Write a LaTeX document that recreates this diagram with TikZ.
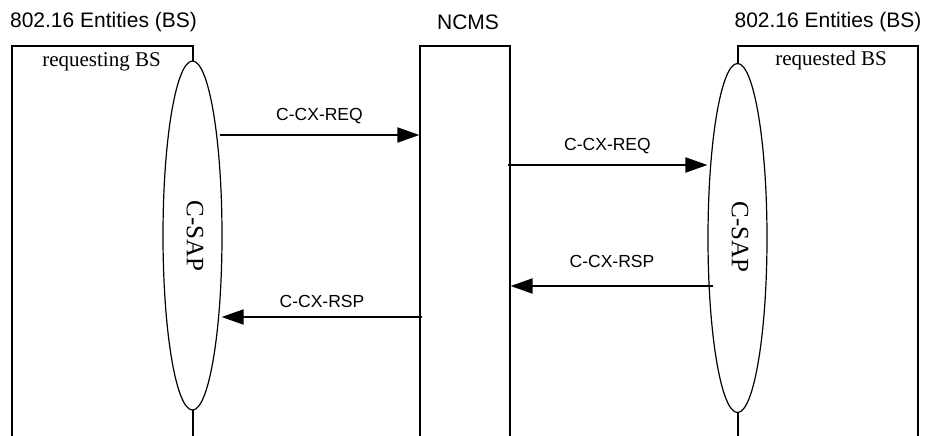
\documentclass[tikz,border=0pt]{standalone}
\usepackage{fontspec}
\setmainfont{Liberation Serif}
\newfontfamily\arialfont{Liberation Sans}
\usetikzlibrary{shapes.geometric,arrows.meta,positioning}
\tikzset{
  entity/.style={draw,line width=1.2pt,minimum height=404pt,inner sep=0pt},
  sap/.style={ellipse,draw,fill=white,line width=1.2pt,minimum width=59pt,minimum height=349pt,inner sep=0pt},
  msg/.style={line width=2pt,-{Triangle[length=22pt,width=15pt]}},
  msglabel/.style={font=\arialfont\fontsize{17.5}{20}\selectfont,inner sep=0pt},
  header/.style={font=\arialfont\fontsize{21}{25}\selectfont,inner sep=0pt},
  bsname/.style={font=\fontsize{21}{25}\selectfont,inner sep=0pt},
  saplabel/.style={font=\fontsize{25}{30}\selectfont,inner sep=0pt,rotate=-90},
}
\begin{document}
\begin{tikzpicture}[x=1pt,y=-1pt]
        \useasboundingbox (0,0) rectangle (927,436);
        % entities (open at the bottom)
        \node[entity,minimum width=181pt] (lbs) at (102.5,248) {};
        \node[entity,minimum width=90pt] (ncms) at (465,248) {};
        \node[entity,minimum width=180pt] (rbs) at (828,248) {};
        \node[header] (lhead) at (103.5,22) {802.16 Entities (BS)};
        \node[header] (nhead) at (468,22) {NCMS};
        \node[header] (rhead) at (828,22) {802.16 Entities (BS)};
        \node[bsname] (lname) at (101.5,62) {requesting BS};
        \node[bsname] (rname) at (831,60) {requested BS};
        % service access points
        \node[sap] (lsap) at (192.5,235.5) {};
        \node[sap] (rsap) at (737.5,238) {};
        \node[saplabel] at (195,236) {C-SAP};
        \node[saplabel] at (740,237) {C-SAP};
        % messages
        \draw[msg] ([xshift=-3pt]lsap.east |- 0,135) -- node[msglabel,above=10pt] {C-CX-REQ} (ncms.west |- 0,135);
        \draw[msg] ([xshift=-3pt]ncms.east |- 0,165) -- node[msglabel,above=10pt] {C-CX-REQ} (rsap.west |- 0,165);
        \draw[msg] ([xshift=6pt]rsap.west |- 0,286) -- node[msglabel,above=17pt] {C-CX-RSP} (ncms.east |- 0,286);
        \draw[msg] ([xshift=3pt]ncms.west |- 0,317) -- node[msglabel,above=8pt] {C-CX-RSP} ([xshift=-1pt]lsap.east |- 0,317);
    \end{tikzpicture}
\end{document}
